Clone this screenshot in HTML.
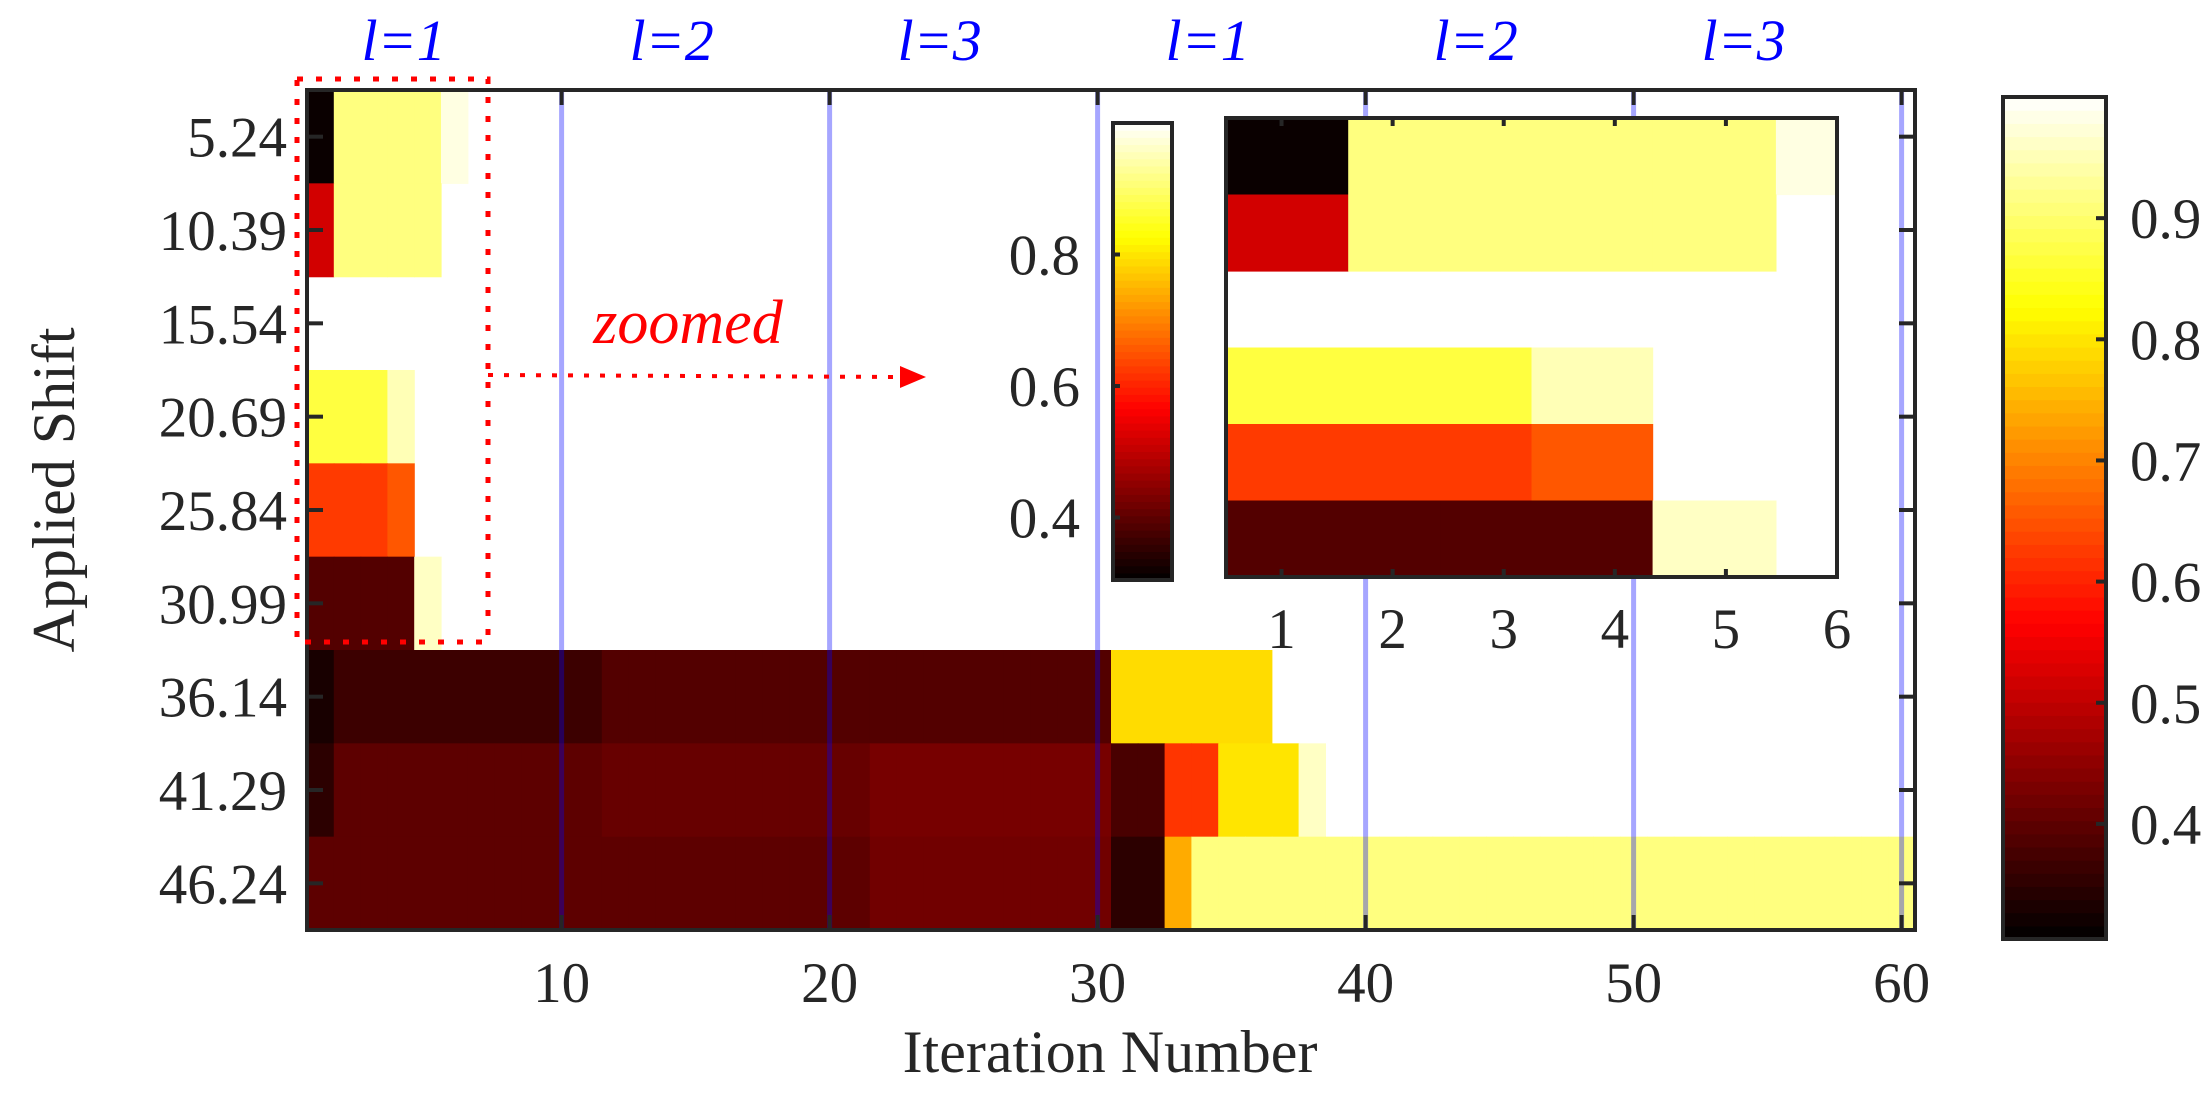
<!DOCTYPE html>
<html><head><meta charset="utf-8"><style>
html,body{margin:0;padding:0;background:#fff;}
svg{display:block;font-family:"Liberation Serif",serif;}
</style></head><body>
<svg id="chart" width="2212" height="1099" viewBox="0 0 2212 1099" xmlns="http://www.w3.org/2000/svg">
<g id="main"></g>
<g id="inset"></g>
<g id="cbar"></g>
<text x="1110" y="1072" text-anchor="middle" font-size="60" fill="#262626">Iteration Number</text>
<text transform="translate(74,490) rotate(-90)" text-anchor="middle" font-size="60" fill="#262626">Applied Shift</text>
<rect x="297" y="79" width="191" height="563" fill="none" stroke="#ff0000" stroke-width="5" stroke-dasharray="6,13"/>
<line x1="488" y1="375" x2="900" y2="377" stroke="#ff0000" stroke-width="4" stroke-dasharray="5,11"/>
<polygon points="900,366 926,377 900,388" fill="#ff0000"/>
<text x="688" y="343" text-anchor="middle" font-size="62" font-style="italic" fill="#ff0000">zoomed</text>
</svg>
<script>
const rowLabels = ["5.24","10.39","15.54","20.69","25.84","30.99","36.14","41.29","46.24"];
const xTicks = [10,20,30,40,50,60];
const levelLabels = ["l=1","l=2","l=3","l=1","l=2","l=3"];
const levelCenters = [5,15,25,35,45,55];
const cbarTicks = [0.4,0.5,0.6,0.7,0.8,0.9];
const insetCbarTicks = [0.4,0.6,0.8];
const insetXTicks = [1,2,3,4,5,6];
// run-length rows: [count, value] (null = empty)
const row1 = [[1,0.315],[4,0.913],[1,0.98],[54,null]];
const row2 = [[1,0.52],[4,0.913],[55,null]];
const row3 = [[60,null]];
const row4 = [[3,0.87],[1,0.95],[56,null]];
const row5 = [[3,0.625],[1,0.655],[56,null]];
const row6 = [[4,0.39],[1,0.96],[55,null]];
const row7 = [[1,0.33],[10,0.366],[19,0.39],[6,0.79],[24,null]];
const row8 = [[1,0.35],[10,0.40],[10,0.41],[9,0.427],[2,0.38],[2,0.62],[3,0.80],[1,0.96],[22,null]];
const row9 = [[21,0.40],[9,0.42],[2,0.35],[1,0.74],[27,0.913]];
const rows = [row1,row2,row3,row4,row5,row6,row7,row8,row9];
const insetColEdges = [0.5,1.6,2.43,3.25,4.34,5.45,6.0];

const NS="http://www.w3.org/2000/svg";
const VMIN=0.305, VMAX=1.0;
function hot(v){
  let t=Math.max(0,Math.min(1,(v-VMIN)/(VMAX-VMIN)));
  const r=Math.min(1,t/0.375), g=Math.max(0,Math.min(1,(t-0.375)/0.375)), b=Math.max(0,Math.min(1,(t-0.75)/0.25));
  return `rgb(${Math.round(r*255)},${Math.round(g*255)},${Math.round(b*255)})`;
}
function mk(tag,attrs,parent){const e=document.createElementNS(NS,tag);for(const k in attrs)e.setAttribute(k,attrs[k]);parent.appendChild(e);return e;}
function expand(runs){const out=[];runs.forEach(r=>{for(let i=0;i<r[0];i++)out.push(r[1]);});return out;}
const grid=rows.map(expand);
const AX="#262626";

// main axes
const L=307,R=1915,T=90,B=930;
const xs=x=>L+(x-0.5)*(R-L)/60;
const ys=i=>T+i*(B-T)/9;
const main=document.getElementById('main');
grid.forEach((row,ri)=>{row.forEach((v,ci)=>{if(v===null)return;
  const c=mk('rect',{x:xs(ci+0.5),y:ys(ri),width:xs(ci+1.5)-xs(ci+0.5)+0.6,height:ys(ri+1)-ys(ri)+0.6,fill:hot(v)},main);
  
  
});});
xTicks.forEach(t=>{
  const l=mk('line',{x1:xs(t),y1:T,x2:xs(t),y2:B,stroke:'rgba(0,0,255,0.35)','stroke-width':5},main);
  
  
});
mk('rect',{x:L,y:T,width:R-L,height:B-T,fill:'none',stroke:AX,'stroke-width':4},main);
xTicks.forEach(t=>{
  mk('line',{x1:xs(t),y1:B,x2:xs(t),y2:B-15,stroke:AX,'stroke-width':4},main);
  mk('line',{x1:xs(t),y1:T,x2:xs(t),y2:T+15,stroke:AX,'stroke-width':4},main);
  const tx=mk('text',{x:xs(t),y:1002,'text-anchor':'middle','font-size':57,fill:AX},main);
  tx.textContent=t;
  
  
});
rowLabels.forEach((lab,i)=>{
  const yc=(ys(i)+ys(i+1))/2;
  mk('line',{x1:L,y1:yc,x2:L+16,y2:yc,stroke:AX,'stroke-width':4},main);
  mk('line',{x1:R,y1:yc,x2:R-16,y2:yc,stroke:AX,'stroke-width':4},main);
  const tx=mk('text',{x:287,y:yc+20,'text-anchor':'end','font-size':57,fill:AX},main);
  tx.textContent=lab;
  
  
});
levelLabels.forEach((lab,i)=>{
  const tx=mk('text',{x:xs(levelCenters[i])-24,y:60,'text-anchor':'middle','font-size':58,'font-style':'italic',fill:'#0000ff'},main);
  tx.textContent=lab;
  
  
});

// inset
const inset=document.getElementById('inset');
const IL=1226,IR=1837,IT=118,IB=577;
const ixs=x=>IL+(x-0.5)*(IR-IL)/5.5;
const iys=i=>IT+i*(IB-IT)/6;
mk('rect',{x:IL,y:IT,width:IR-IL,height:IB-IT,fill:'#fff'},inset);
for(let ri=0;ri<6;ri++){for(let ci=0;ci<6;ci++){const v=grid[ri][ci];if(v===null)continue;
  const c=mk('rect',{x:ixs(insetColEdges[ci]),y:iys(ri),width:ixs(insetColEdges[ci+1])-ixs(insetColEdges[ci])+0.6,height:iys(ri+1)-iys(ri)+0.6,fill:hot(v)},inset);
  
  
}}
mk('rect',{x:IL,y:IT,width:IR-IL,height:IB-IT,fill:'none',stroke:AX,'stroke-width':4},inset);
insetXTicks.forEach(t=>{
  if(t<6){mk('line',{x1:ixs(t),y1:IB,x2:ixs(t),y2:IB-8,stroke:AX,'stroke-width':4},inset);
  mk('line',{x1:ixs(t),y1:IT,x2:ixs(t),y2:IT+8,stroke:AX,'stroke-width':4},inset);}
  const tx=mk('text',{x:ixs(t),y:648,'text-anchor':'middle','font-size':57,fill:AX},inset);
  tx.textContent=t;
  
  
});
// inset colorbar
const CL=1113,CR=1172,CT=123,CB=580;
const cys=v=>CB-(v-VMIN)/(VMAX-VMIN)*(CB-CT);
for(let k=0;k<64;k++){const v0=VMIN+k*(VMAX-VMIN)/64,v1=VMIN+(k+1)*(VMAX-VMIN)/64;
  mk('rect',{x:CL,y:cys(v1),width:CR-CL,height:cys(v0)-cys(v1)+0.6,fill:hot((v0+v1)/2)},inset);}
mk('rect',{x:CL,y:CT,width:CR-CL,height:CB-CT,fill:'none',stroke:AX,'stroke-width':4},inset);
insetCbarTicks.forEach(t=>{
  mk('line',{x1:CL,y1:cys(t),x2:CL+7,y2:cys(t),stroke:AX,'stroke-width':4},inset);
  const tx=mk('text',{x:1080,y:cys(t)+20,'text-anchor':'end','font-size':57,fill:AX},inset);
  tx.textContent=t.toFixed(1);
  
  
});

// main colorbar
const cb=document.getElementById('cbar');
const BL=2003,BR=2106,BT=97,BB=939;
const bys=v=>BB-(v-VMIN)/(VMAX-VMIN)*(BB-BT);
for(let k=0;k<64;k++){const v0=VMIN+k*(VMAX-VMIN)/64,v1=VMIN+(k+1)*(VMAX-VMIN)/64;
  mk('rect',{x:BL,y:bys(v1),width:BR-BL,height:bys(v0)-bys(v1)+0.6,fill:hot((v0+v1)/2)},cb);}
mk('rect',{x:BL,y:BT,width:BR-BL,height:BB-BT,fill:'none',stroke:AX,'stroke-width':4},cb);
cbarTicks.forEach(t=>{
  mk('line',{x1:BR,y1:bys(t),x2:BR-10,y2:bys(t),stroke:AX,'stroke-width':4},cb);
  const tx=mk('text',{x:2130,y:bys(t)+20,'font-size':57,fill:AX},cb);
  tx.textContent=t.toFixed(1);
  
  
});
</script>
</body></html>
